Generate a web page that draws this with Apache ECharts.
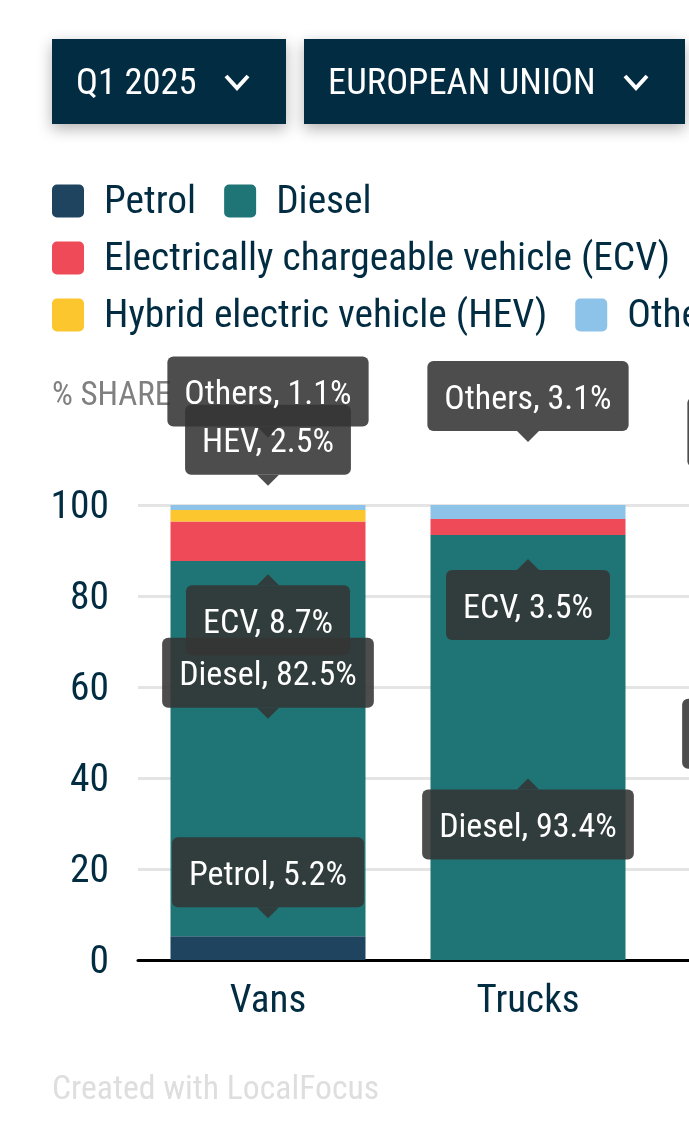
<!DOCTYPE html>
<html>
<head>
<meta charset="utf-8">
<style>html,body{margin:0;padding:0;background:#fff;overflow:hidden}#c{width:689px;height:1138px}</style>
<script src="https://cdn.jsdelivr.net/npm/echarts@6/dist/echarts.min.js"></script>
</head>
<body>
<div id="c"></div>
<script>
const categories = ['Vans', 'Trucks', 'Buses'];
const seriesNames = ['Petrol', 'Diesel', 'Electrically chargeable vehicle (ECV)', 'Hybrid electric vehicle (HEV)', 'Others'];
const shortNames = ['Petrol', 'Diesel', 'ECV', 'HEV', 'Others'];
const petrol = [5.2, 0, 0];
const diesel = [82.5, 93.4, 66.0];
const ecv = [8.7, 3.5, 30.0];
const hev = [2.5, 0, 2.6];
const others = [1.1, 3.1, 1.4];
const yTicks = [0, 20, 40, 60, 80, 100];
const dropdowns = ['Q1 2025', 'EUROPEAN UNION'];
const yTitle = '% SHARE';
const credit = 'Created with LocalFocus';

const values = [petrol, diesel, ecv, hev, others];
const colors = ['#1e4460', '#1f7576', '#ef4a57', '#fcc62f', '#8dc3e8'];
const NAVY = '#022c41';
const FONT = '"Roboto Condensed", "Liberation Sans Narrow", Roboto, sans-serif';
const TIP = 'rgba(52,52,52,0.88)';

// which callouts exist: [category, series, direction, pixel gap from segment centre]
const callouts = [
  [0, 0, 'down', 30], [0, 1, 'down', 30], [0, 2, 'up', 33], [0, 3, 'down', 30], [0, 4, 'down', 70],
  [1, 1, 'up', 31], [1, 2, 'up', 32], [1, 4, 'down', 70],
  [2, 1, 'down', 30], [2, 4, 'down', 30]
];
function segmentCentre(cat, ser) {
  let base = 0;
  for (let i = 0; i < ser; i++) base += values[i][cat];
  return base + values[ser][cat] / 2;
}
const calloutData = callouts.map(c => [c[0], segmentCentre(c[0], c[1]), c[1], c[2] === 'up' ? 1 : -1, c[3]]);

const chart = echarts.init(document.getElementById('c'), null, {renderer: 'canvas', width: 689, height: 1138});

const legendRows = [[0, 1], [2], [3, 4]];
const legendTops = [184, 241, 298];

function dropdown(x, w, label, cx) {
  return [
    {type: 'rect', shape: {x: x, y: 39, width: w, height: 85},
      style: {fill: NAVY, shadowBlur: 14, shadowOffsetY: 5, shadowColor: 'rgba(0,0,0,0.3)'}, z: 5},
    {type: 'text', x: x + 24, y: 85, z: 6,
      style: {text: label, fill: '#fff', font: '36.6px ' + FONT, verticalAlign: 'middle'}},
    {type: 'polyline', z: 6, shape: {points: [[cx - 11, 76], [cx, 88], [cx + 11, 76]]},
      style: {stroke: '#fff', lineWidth: 4, fill: null}}
  ];
}

chart.setOption({
  animation: false,
  backgroundColor: '#fff',
  textStyle: {fontFamily: FONT},
  legend: legendRows.map((row, i) => ({
    left: 52, top: legendTops[i], orient: 'horizontal', selectedMode: false,
    data: row.map(r => seriesNames[r]),
    itemWidth: 32, itemHeight: 38, itemGap: 28,
    icon: 'path://M5,0H27A5,5,0,0,1,32,5V28A5,5,0,0,1,27,33H5A5,5,0,0,1,0,28V5A5,5,0,0,1,5,0ZM16,38L16,38Z',
    textStyle: {fontFamily: FONT, fontSize: 39.4, color: NAVY, padding: [0, 0, 0, 15]},
    padding: 0, width: 1000
  })),
  grid: {left: 138, top: 505, width: 780, height: 455, containLabel: false, outerBoundsMode: 'none'},
  xAxis: {
    type: 'category', data: categories,
    axisTick: {show: false},
    axisLine: {show: true, lineStyle: {color: '#000', width: 3}},
    axisLabel: {color: NAVY, fontSize: 39, fontFamily: FONT, margin: 23, interval: 0}
  },
  yAxis: {
    type: 'value', min: 0, max: 100, interval: 20,
    name: yTitle, nameLocation: 'end', nameGap: 92,
    nameTextStyle: {color: '#808080', fontSize: 33, fontFamily: FONT, align: 'left', padding: [0, 0, 0, -86]},
    axisLine: {show: false}, axisTick: {show: false},
    splitLine: {lineStyle: {color: '#e4e4e4', width: 3}},
    axisLabel: {color: NAVY, fontSize: 39.5, fontFamily: FONT, margin: 29, verticalAlign: 'top', lineHeight: 40,
      padding: [-17, 0, 0, 0], customValues: yTicks}
  },
  series: values.map((v, i) => ({
    type: 'bar', name: seriesNames[i], stack: 'share', data: v, barWidth: '75%',
    itemStyle: {color: colors[i]}, z: 3
  })).concat([{
    type: 'custom', name: 'callouts', data: calloutData, z: 10, clip: false,
    encode: {x: 0, y: 1}, silent: true,
    renderItem: function (params, api) {
      const cat = api.value(0), ser = api.value(2), dir = api.value(3), gap = api.value(4);
      const p = api.coord([cat, api.value(1)]);
      const tipY = p[1] + dir * gap;
      const edge = tipY + dir * 11;
      const v = values[ser][cat].toFixed(1);
      const boxH = 70;
      return {type: 'group', children: [
        {type: 'polygon', shape: {points: [[p[0] - 11, edge], [p[0], tipY], [p[0] + 11, edge]]}, style: {fill: TIP}},
        {type: 'text', x: p[0], y: dir > 0 ? edge : edge - boxH,
          style: {text: shortNames[ser] + ', ' + v + '%', fill: '#fff', font: '34px ' + FONT,
            align: 'center', verticalAlign: 'top', lineHeight: 38,
            backgroundColor: TIP, borderRadius: 6, padding: [20, 17, 12, 17]}}
      ]};
    }
  }]),
  graphic: {elements: [].concat(
    dropdown(52, 234, dropdowns[0], 237),
    dropdown(304, 381, dropdowns[1], 636),
    [{type: 'text', x: 52, y: 1091, z: 1,
      style: {text: credit, fill: '#dedede', font: '33.7px ' + FONT, verticalAlign: 'middle'}}]
  )}
});
</script>
</body>
</html>
